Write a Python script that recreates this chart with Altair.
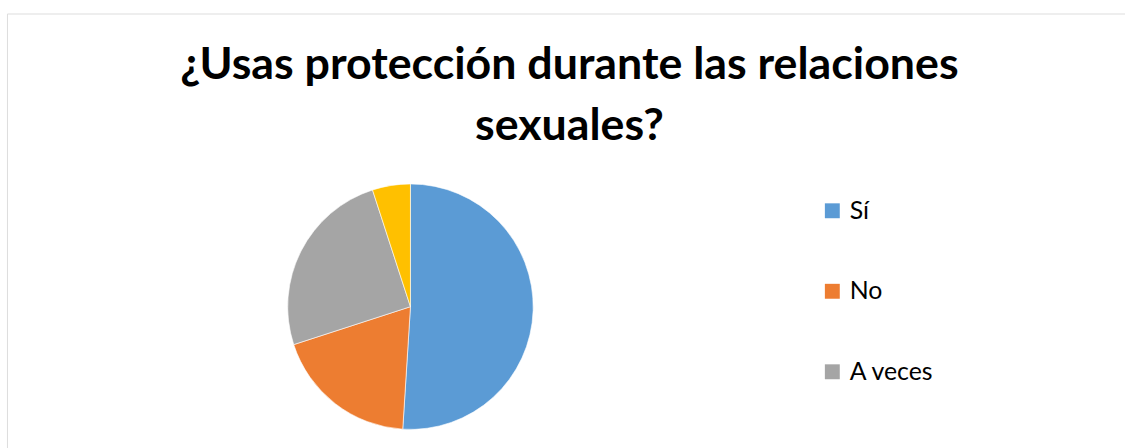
import altair as alt
import pandas as pd

categories = ["Sí", "No", "A veces", "Nunca"]
values = [51, 19, 25, 5]
colors = ["#5B9BD5", "#ED7D31", "#A5A5A5", "#FFC000"]
legend_values = ["Sí", "No", "A veces"]
title_lines = ["¿Usas protección durante las relaciones", "sexuales?"]

df = pd.DataFrame({"categoria": categories, "valor": values, "orden": list(range(len(categories)))})

# view origin is at (7, 12) in the page
pie = alt.Chart(df).mark_arc(radius=123.5, stroke="white", strokeWidth=0.6).encode(
    theta=alt.Theta("valor:Q", stack=True),
    order=alt.Order("orden:Q"),
    color=alt.Color(
        "categoria:N",
        sort=categories,
        scale=alt.Scale(domain=categories, range=colors),
        legend=alt.Legend(
            title=None,
            values=legend_values,
            orient="none",
            legendX=818,
            legendY=186,
            symbolType="square",
            symbolSize=225,
            symbolStrokeWidth=0,
            labelFont="Lato",
            labelFontSize=25,
            labelColor="#000000",
            rowPadding=55,
            labelOffset=5,
        ),
    ),
    x=alt.value(406),
    y=alt.value(295),
)

def title_line(text, y):
    return alt.Chart(pd.DataFrame({"t": [text]})).mark_text(
        font="Lato", fontSize=45, fontWeight="bold", color="#000000",
        align="center", baseline="alphabetic",
    ).encode(text="t:N", x=alt.value(566), y=alt.value(y))

chart = alt.layer(pie, title_line(title_lines[0], 66), title_line(title_lines[1], 127)).properties(
    width=1125,
    height=500,
    padding={"left": 7, "top": 12, "right": 0, "bottom": 0},
    autosize=alt.AutoSizeParams(type="none"),
).configure_view(
    stroke="#A6A6A6", strokeWidth=2
).configure(background="white")

chart.save("out.html", embed_options={"renderer": "svg", "actions": False})
